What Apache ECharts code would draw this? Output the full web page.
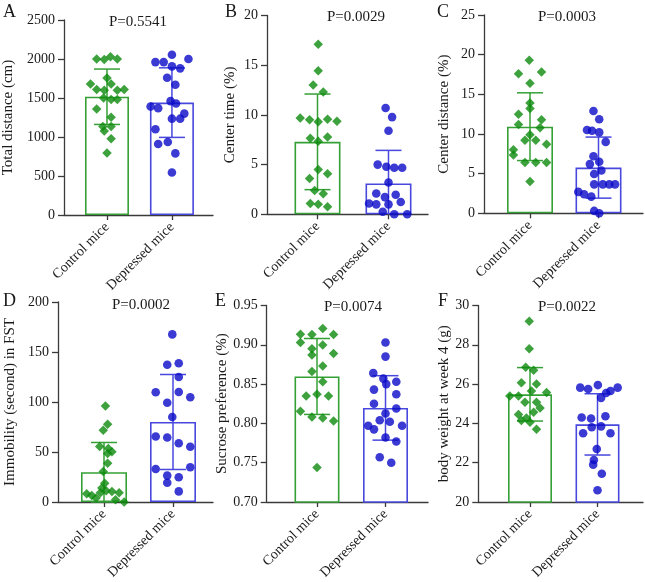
<!DOCTYPE html>
<html><head><meta charset="utf-8">
<script src="https://cdn.jsdelivr.net/npm/echarts@6/dist/echarts.min.js"></script>
<style>html,body{margin:0;padding:0;background:#fff}#c{width:645px;height:582px}</style>
</head><body><div id="c"></div>
<script>
// ---------- data ----------
const categories = ['Control mice', 'Depressed mice'];
const panelLetters = ['A', 'B', 'C', 'D', 'E', 'F'];
const pValues = ['P=0.5541', 'P=0.0029', 'P=0.0003', 'P=0.0002', 'P=0.0074', 'P=0.0022'];
const yNames = ['Total distance (cm)', 'Center time (%)', 'Center distance (%)',
  'Immobility (second) in FST', 'Sucrose preference (%)', 'body weight at week 4 (g)'];
const yMin = [0, 0, 0, 0, 0.70, 20];
const yMax = [2500, 20, 25, 200, 0.95, 30];
const yStep = [500, 5, 5, 50, 0.05, 2];
const yDecimals = [0, 0, 0, 0, 2, 0];

const meanCtrl = [1516, 7.29, 10.92, 29.75, 0.8597, 25.48];
const meanDep = [1441, 3.10, 5.76, 80.0, 0.8197, 23.95];
const sdCtrl = [355, 4.81, 4.27, 29.75, 0.0483, 1.36];
const sdDep = [446, 3.33, 3.85, 47.5, 0.0410, 1.56];

const A_ctrl = [2000, 1995, 2030, 2000, 1756, 1680, 1680, 1610, 1600, 1600, 1610, 1500, 1480, 1480, 1360, 1254, 1135, 1135, 1076, 978, 795];
const A_ctrl_slot = [-1.5, -0.4, 0.5, 1.5, 0, -2.4, 0.6, -1.5, -0.4, 1.5, 2.5, -0.5, 0.6, 1.5, -1.5, 0.6, -0.6, 0.6, -0.4, 0.6, 0];
const A_dep = [2054, 1960, 1960, 2000, 1905, 1880, 1760, 1670, 1460, 1430, 1390, 1370, 1300, 1235, 1235, 1100, 910, 935, 790, 545];
const A_dep_slot = [0, -2.4, -1.2, 2.4, 0, 1.2, -0.7, 0.5, -0.2, 0.6, -3.1, -2.0, 1.8, 0, 1.2, -2.4, -2.0, -0.6, 0.5, 0];

const B_ctrl = [17.1, 14.45, 13.0, 12.3, 9.68, 9.52, 9.3, 9.55, 9.36, 7.64, 7.77, 7.35, 4.5, 3.6, 4.08, 2.39, 2.06, 1.08, 1.01, 0.75];
const B_ctrl_slot = [0.1, 0.1, -0.6, 0.8, -2.4, -1.1, 0.1, 1.4, 2.7, -1.0, 1.4, 0.1, 0.1, -1.1, 1.4, -0.4, 0.8, -1.0, 0.1, 1.4];
const B_dep = [10.7, 9.78, 8.4, 5.0, 4.78, 4.68, 4.68, 3.2, 2.1, 1.96, 1.73, 1.08, 1.0, 1.0, 1.24, 0.26, 0, 0];
const B_dep_slot = [-0.4, 0.5, 0, -1.5, -0.3, 0.8, 1.9, 0, -1.7, 1.0, -0.5, -2.7, -1.7, 0, 1.7, -0.8, 0.8, 2.6];

const C_ctrl = [19.3, 17.6, 17.8, 16.4, 13.9, 13.2, 12.5, 11.8, 11.2, 10.8, 9.9, 9.2, 9.2, 8.7, 8.0, 7.35, 6.4, 6.4, 6.4, 4.0];
const C_ctrl_slot = [-0.1, -1.6, 1.6, 0, 0, 0, -1.6, 1.6, -1.6, 1.4, 0, -0.7, 0.8, 2.3, -2.3, -2.3, -0.7, 0.8, 2.3, 0];
const C_dep = [12.9, 11.85, 10.5, 10.4, 10.2, 9.0, 7.2, 6.5, 6.2, 5.4, 4.95, 3.65, 3.65, 3.65, 3.65, 2.7, 2.4, 2.1, 0.3, 0];
const C_dep_slot = [-0.7, 0.1, -1.6, -0.9, 0.1, 1.0, -0.7, 0.1, -1.2, 0.4, -0.6, -0.6, 0.6, 1.5, 2.3, -2.8, -2.0, -1.0, -0.6, 0.1];

const D_ctrl = [95.9, 77.7, 71.7, 55.5, 53.5, 50.2, 48.6, 38.7, 30.4, 18.8, 13.9, 8.3, 6.6, 4.0, 9.3, 11.2, 10.6, 9.3, 2.3, 0];
const D_ctrl_slot = [0.2, 0.5, -0.1, -0.6, 0.6, 1.1, 0.5, 0.5, -0.1, 0.1, -0.3, -2.4, -1.7, -1.1, -0.5, 0.3, 1.1, 2.1, 1.6, 2.8];
const D_dep = [167.6, 137.2, 138.8, 125, 109.8, 110, 104.8, 99.2, 85, 65.5, 64.5, 58.8, 55.2, 33, 34.7, 26.4, 24.8, 19.2, 10.6];
const D_dep_slot = [-0.1, -0.8, 0.8, 0.8, -2.4, 0.8, 2.4, -0.8, -0.1, -2.4, -0.8, 0.8, 2.4, -2.4, 2.4, -0.8, 0.8, -0.8, 0.8];

const E_ctrl = [0.9134, 0.913, 0.9206, 0.913, 0.903, 0.895, 0.8996, 0.887, 0.889, 0.873, 0.866, 0.853, 0.835, 0.837, 0.835, 0.8155, 0.808, 0.807, 0.803, 0.744];
const E_ctrl_slot = [-2.3, -0.7, 0.8, 2.3, -2.3, -0.7, 0.8, -0.7, 2.3, 0.8, -0.7, 0.8, -1.5, 0, 1.6, -2.3, -0.7, 0.8, 2.3, 0];
const E_dep = [0.903, 0.885, 0.864, 0.857, 0.850, 0.853, 0.843, 0.837, 0.825, 0.819, 0.8126, 0.804, 0.802, 0.797, 0.7924, 0.797, 0.782, 0.777, 0.757, 0.750];
const E_dep_slot = [0, 0, -1.7, -0.3, 0.1, 1.5, -1.6, 1.5, -1.6, 1.5, 0, -0.8, 0.6, -2.4, -1.6, 2.3, 0, 1.5, -0.8, 0.8];

const F_ctrl = [29.2, 27.8, 26.86, 26.7, 26.07, 26.0, 25.65, 25.4, 25.4, 25.57, 25.07, 25.07, 24.78, 24.57, 24.45, 24.28, 24.15, 24.06, 23.7];
const F_ctrl_slot = [-0.1, -0.1, -0.6, 0.5, -1.2, 0.9, 0.2, -2.8, -1.6, 2.3, -0.7, 0.9, 1.4, 0.5, -1.6, -0.5, -1.2, 0, 0.9];
const F_dep = [25.82, 25.75, 25.95, 25.55, 25.65, 25.82, 25.3, 24.3, 24.25, 24.36, 23.5, 23.8, 23.85, 23.5, 22.7, 22.14, 21.9, 21.44, 20.6];
const F_dep_slot = [-2.4, -1.3, 0.05, 1.2, 1.8, 2.8, 0.5, -2.2, -0.9, 1.1, -2.0, -0.8, 0.5, 1.8, -0.1, -0.5, -0.6, 0.6, 0];

const ctrlPoints = [A_ctrl, B_ctrl, C_ctrl, D_ctrl, E_ctrl, F_ctrl];
const ctrlSlots = [A_ctrl_slot, B_ctrl_slot, C_ctrl_slot, D_ctrl_slot, E_ctrl_slot, F_ctrl_slot];
const depPoints = [A_dep, B_dep, C_dep, D_dep, E_dep, F_dep];
const depSlots = [A_dep_slot, B_dep_slot, C_dep_slot, D_dep_slot, E_dep_slot, F_dep_slot];

// ---------- layout / style ----------
const layout = [
  { L: 57, R: 213, T: 20, B: 215, c0: 102, c1: 170, bw: 44, gap: 48 },
  { L: 267, R: 428, T: 15.5, B: 214.3, c0: 317.5, c1: 388.5, bw: 46, gap: 29 },
  { L: 484, R: 643, T: 15, B: 213.3, c0: 530, c1: 598.5, bw: 46, gap: 32 },
  { L: 58, R: 213, T: 302, B: 503.3, c0: 104, c1: 173, bw: 46, gap: 40 },
  { L: 266.7, R: 428, T: 305.5, B: 503.3, c0: 317, c1: 385.5, bw: 45, gap: 36 },
  { L: 478.3, R: 643, T: 305.5, B: 504.3, c0: 530, c1: 597.5, bw: 44, gap: 26 }
];
const letterPos = [[3, 3], [225, 3], [437, 3], [3, 292], [215, 292], [438, 292]];
const pPos = [[138, 22], [356, 17], [567, 17], [141, 305], [353, 307], [567, 307]];
const SLOT_PX = 7.2;
const FONT = '"Liberation Serif", "Times New Roman", serif';
const GREEN_PT = '#0d8a0d', GREEN_BAR = '#35a035';
const BLUE_PT = '#0a0ac8', BLUE_BAR = '#4848de';
const AXIS = '#3a3a3a', TXT = '#1a1a1a';

function errRenderer(color) {
  return function (params, api) {
    const x = api.value(0), m = api.value(1), s = api.value(2), lo = api.value(3);
    const top = api.coord([x, m + s]);
    const botV = Math.max(m - s, lo);
    const bot = api.coord([x, botV]);
    const hw = 13;
    const st = { stroke: color, lineWidth: 1.5 };
    const ch = [
      { type: 'line', shape: { x1: top[0], y1: top[1], x2: bot[0], y2: bot[1] }, style: st },
      { type: 'line', shape: { x1: top[0] - hw, y1: top[1], x2: top[0] + hw, y2: top[1] }, style: st }
    ];
    if (m - s >= lo) ch.push({ type: 'line', shape: { x1: bot[0] - hw, y1: bot[1], x2: bot[0] + hw, y2: bot[1] }, style: st });
    return { type: 'group', children: ch };
  };
}

const grid = [], xAxis = [], yAxis = [], series = [], graphic = [];
layout.forEach((g, i) => {
  const span = g.c1 - g.c0;
  grid.push({ left: g.L, top: g.T, width: g.R - g.L, height: g.B - g.T, containLabel: false });
  xAxis.push({
    type: 'value', gridIndex: i,
    min: (g.L - g.c0) / span, max: (g.R - g.c0) / span,
    splitLine: { show: false },
    axisLine: { show: true, onZero: false, lineStyle: { color: AXIS, width: 1.3 } },
    axisTick: { show: true, customValues: [0, 1], length: 5, lineStyle: { color: AXIS, width: 1.3 } },
    axisLabel: {
      customValues: [0, 1], rotate: 45, margin: 10, fontSize: 14, fontFamily: FONT, color: TXT,
      align: 'right', verticalAlign: 'middle',
      formatter: v => categories[Math.round(v)]
    }
  });
  yAxis.push({
    type: 'value', gridIndex: i, min: yMin[i], max: yMax[i], interval: yStep[i],
    name: yNames[i], nameLocation: 'middle', nameGap: g.gap,
    nameTextStyle: { fontSize: 15, fontFamily: FONT, color: TXT },
    splitLine: { show: false },
    axisLine: { show: true, onZero: false, lineStyle: { color: AXIS, width: 1.3 } },
    axisTick: { show: true, length: 6, lineStyle: { color: AXIS, width: 1.3 } },
    axisLabel: {
      margin: 9, fontSize: 14, fontFamily: FONT, color: TXT,
      formatter: v => v.toFixed(yDecimals[i])
    }
  });
  series.push({
    type: 'bar', xAxisIndex: i, yAxisIndex: i, barWidth: g.bw, z: 1,
    data: [
      { value: [0, meanCtrl[i]], itemStyle: { color: '#fff', borderColor: GREEN_BAR, borderWidth: 1.6 } },
      { value: [1, meanDep[i]], itemStyle: { color: '#fff', borderColor: BLUE_BAR, borderWidth: 1.6 } }
    ]
  });
  series.push({
    type: 'custom', xAxisIndex: i, yAxisIndex: i, z: 2,
    renderItem: errRenderer(GREEN_BAR), data: [[0, meanCtrl[i], sdCtrl[i], yMin[i]]]
  });
  series.push({
    type: 'custom', xAxisIndex: i, yAxisIndex: i, z: 2,
    renderItem: errRenderer(BLUE_BAR), data: [[1, meanDep[i], sdDep[i], yMin[i]]]
  });
  const su = SLOT_PX / span;
  series.push({
    type: 'scatter', xAxisIndex: i, yAxisIndex: i, z: 3, clip: false,
    symbol: 'diamond', symbolSize: 9.5, itemStyle: { color: GREEN_PT },
    data: ctrlPoints[i].map((v, k) => [0 + ctrlSlots[i][k] * su, v])
  });
  series.push({
    type: 'scatter', xAxisIndex: i, yAxisIndex: i, z: 3, clip: false,
    symbol: 'circle', symbolSize: 8.6, itemStyle: { color: BLUE_PT },
    data: depPoints[i].map((v, k) => [1 + depSlots[i][k] * su, v])
  });
  graphic.push({
    type: 'text', left: letterPos[i][0], top: letterPos[i][1],
    style: { text: panelLetters[i], font: '18px ' + FONT, fill: TXT }
  });
  graphic.push({
    type: 'text', x: pPos[i][0], y: pPos[i][1],
    style: { text: pValues[i], font: '15px ' + FONT, fill: TXT, textAlign: 'center', textVerticalAlign: 'middle' }
  });
});

const chart = echarts.init(document.getElementById('c'), null, { renderer: 'canvas' });
chart.setOption({ animation: false, backgroundColor: '#fff', grid, xAxis, yAxis, series, graphic });
</script></body></html>
